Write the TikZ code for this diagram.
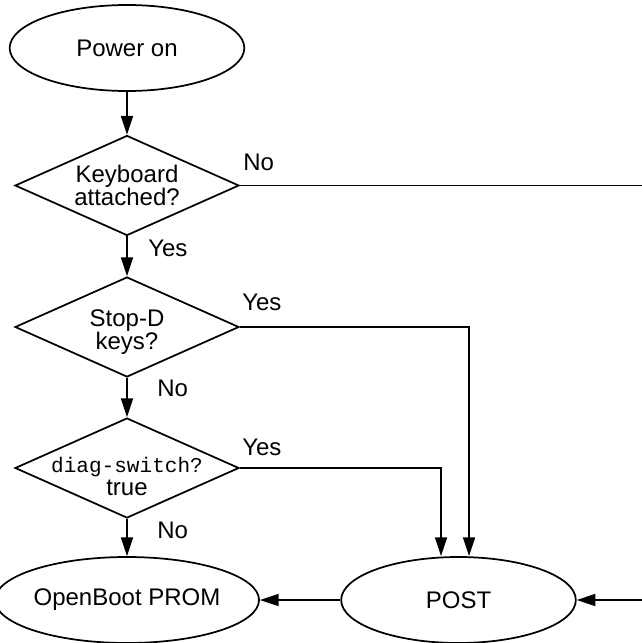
\documentclass[tikz,border=0pt]{standalone}
\usepackage{fontspec}
\setmainfont{Liberation Sans}
\setmonofont{Liberation Mono}
\usetikzlibrary{shapes.geometric,arrows.meta}

\tikzset{
  terminal/.style={ellipse, draw, line width=1.3pt, minimum width=176pt, minimum height=64.5pt, inner sep=0pt},
  decision/.style={diamond, draw, line width=1.3pt, minimum width=168pt, minimum height=75pt, inner sep=0pt},
  dtext/.style={align=center, inner sep=0pt},
  flow/.style={line width=1pt, -{Triangle[length=14pt,width=9pt]}},
  lbl/.style={inner sep=0pt, anchor=base west},
}

\begin{document}
\begin{tikzpicture}[x=0.75pt, y=-0.75pt, font=\fontsize{18pt}{17.25pt}\selectfont]
    \useasboundingbox (0,0) rectangle (642,643);

    % left column: start and the three checks
    \node[terminal] (power) at (127,48) {Power on};
    \node[decision, label={[dtext]center:{Keyboard\\attached?}}] (kb) at (127,185.5) {};
    \node[decision, label={[dtext, yshift=-4pt]center:{Stop-D\\keys?}}] (stopd) at (127,327) {};
    \node[decision, label={[dtext, yshift=-6.5pt]center:{{\fontsize{15.8pt}{17.25pt}\ttfamily diag-switch?}\\true}}] (diag) at (127,468) {};

    % bottom row
    \node[terminal] (prom) at (127,600) {OpenBoot PROM};
    \node[terminal] (post) at (458.5,600) {POST};

    % no keyboard: runs off the right edge
    \coordinate (kbedge) at (660,185.5);

    % connectors
    \draw[flow] (power) -- (kb);
    \draw[flow] (kb) -- (stopd);
    \draw[flow] (stopd) -- (diag);
    \draw[flow] (diag) -- (prom);
    \draw[flow] (stopd.east) -| ([xshift=7.9pt]post.north);
    \draw[flow] (diag.east) -| ([xshift=-13.1pt]post.north);
    \draw[flow, line width=1.3pt] (kb.east) -- (kbedge) |- (post.east);
    \draw[flow] (post) -- (prom);

    % branch labels
    \node[lbl] (kbno) at (243,170) {No};
    \node[lbl] (kbyes) at (148,256) {Yes};
    \node[lbl] (stopyes) at (242,310) {Yes};
    \node[lbl] (stopno) at (157,396) {No};
    \node[lbl] (diagyes) at (242,455) {Yes};
    \node[lbl] (diagno) at (157,538) {No};
\end{tikzpicture}
\end{document}
